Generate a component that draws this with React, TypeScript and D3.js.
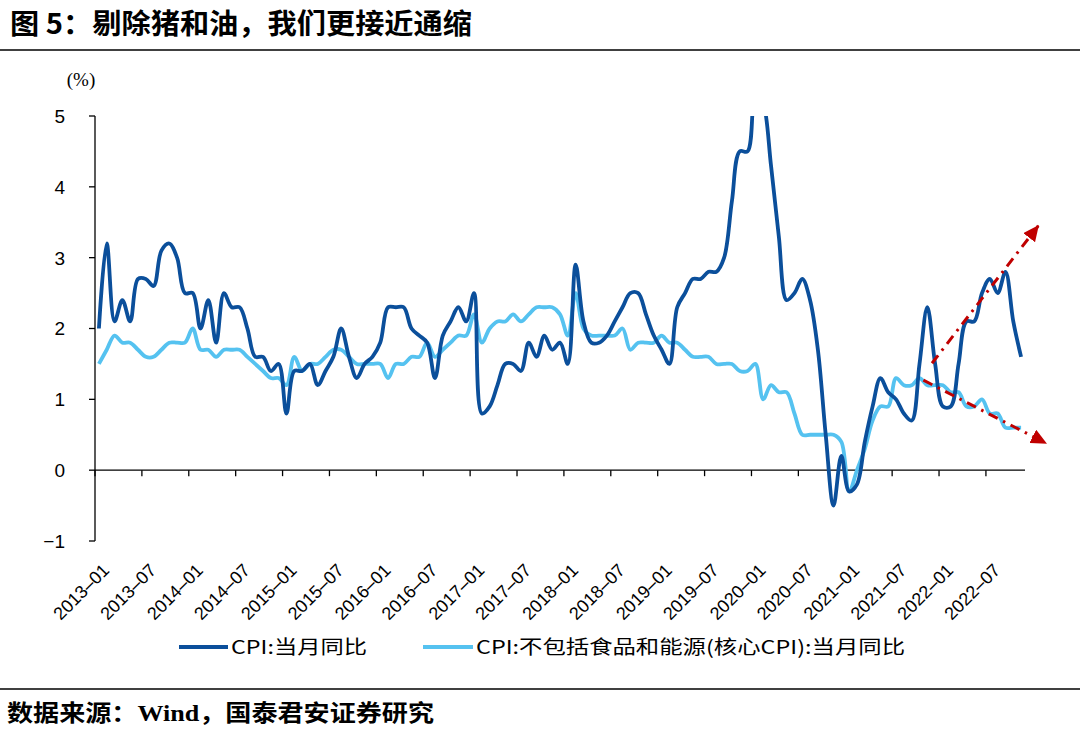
import * as d3 from "d3";

// CPI 当月同比, 2013-01 .. 2022-11
const cpi = [
  2.0, 3.2, 2.1, 2.4, 2.1, 2.7, 2.7, 2.6, 3.1, 3.2, 3.0, 2.5,
  2.5, 2.0, 2.4, 1.8, 2.5, 2.3, 2.3, 2.0, 1.6, 1.6, 1.4, 1.5,
  0.8, 1.4, 1.4, 1.5, 1.2, 1.4, 1.6, 2.0, 1.6, 1.3, 1.5, 1.6,
  1.8, 2.3, 2.3, 2.3, 2.0, 1.9, 1.8, 1.3, 1.9, 2.1, 2.3, 2.1,
  2.5, 0.8, 0.9, 1.2, 1.5, 1.5, 1.4, 1.8, 1.6, 1.9, 1.7, 1.8,
  1.5, 2.9, 2.1, 1.8, 1.8, 1.9, 2.1, 2.3, 2.5, 2.5, 2.2, 1.9,
  1.7, 1.5, 2.3, 2.5, 2.7, 2.7, 2.8, 2.8, 3.0, 3.8, 4.5, 4.5,
  5.4, 5.2, 4.3, 3.3, 2.4, 2.5, 2.7, 2.4, 1.7, 0.5, -0.5, 0.2,
  -0.3, -0.2, 0.4, 0.9, 1.3, 1.1, 1.0, 0.8, 0.7, 1.5, 2.3, 1.5,
  0.9, 0.9, 1.5, 2.1, 2.1, 2.5, 2.7, 2.5, 2.8, 2.1, 1.6,
];

// 核心CPI 当月同比, same months
const coreCpi = [
  1.5, 1.7, 1.9, 1.8, 1.8, 1.7, 1.6, 1.6, 1.7, 1.8, 1.8, 1.8,
  2.0, 1.7, 1.7, 1.6, 1.7, 1.7, 1.7, 1.6, 1.5, 1.4, 1.3, 1.3,
  1.2, 1.6, 1.4, 1.5, 1.5, 1.6, 1.7, 1.7, 1.6, 1.5, 1.5, 1.5,
  1.5, 1.3, 1.5, 1.5, 1.6, 1.6, 1.8, 1.6, 1.7, 1.8, 1.9, 1.9,
  2.2, 1.8, 2.0, 2.1, 2.1, 2.2, 2.1, 2.2, 2.3, 2.3, 2.3, 2.2,
  1.9, 2.5, 2.0, 1.9, 1.9, 1.9, 1.9, 2.0, 1.7, 1.8, 1.8, 1.8,
  1.9, 1.8, 1.8, 1.7, 1.6, 1.6, 1.6, 1.5, 1.5, 1.5, 1.4, 1.4,
  1.5, 1.0, 1.2, 1.1, 1.1, 0.8, 0.5, 0.5, 0.5, 0.5, 0.5, 0.4,
  -0.3, 0.0, 0.3, 0.7, 0.9, 0.9, 1.3, 1.2, 1.2, 1.3, 1.2, 1.2,
  1.2, 1.1, 1.1, 0.9, 0.9, 1.0, 0.8, 0.8, 0.6, 0.6, 0.6,
];

// one label every 6 months
const tickLabels = [
  "2013–01", "2013–07", "2014–01", "2014–07", "2015–01", "2015–07",
  "2016–01", "2016–07", "2017–01", "2017–07", "2018–01", "2018–07",
  "2019–01", "2019–07", "2020–01", "2020–07", "2021–01", "2021–07",
  "2022–01", "2022–07",
];
const yTicks = [-1, 0, 1, 2, 3, 4, 5];

// red trend arrows, in (month index, %) units
const trendUp = [
  { i: 106.6, v: 1.51 },
  { i: 120.2, v: 3.45 },
];
const trendDown = [
  { i: 105.5, v: 1.27 },
  { i: 121.2, v: 0.38 },
];

const DARK = "#0B4F9B";
const LIGHT = "#55C2F0";
const RED = "#C00000";
const CJK = '"Noto Sans CJK SC", "Noto Sans", sans-serif';

export default function App() {
  const width = 1080;
  const height = 735;
  const x = d3.scaleLinear([-0.5, 118.5], [95, 1025]);
  const y = d3.scaleLinear([-1, 5], [541, 116]);

  const line = d3
    .line<number>()
    .x((_, i) => x(i))
    .y((d) => y(d))
    .curve(d3.curveCatmullRom.alpha(0.5));

  const trend = d3
    .line<{ i: number; v: number }>()
    .x((d) => x(d.i))
    .y((d) => y(d.v));

  return (
    <svg
      width={width}
      height={height}
      viewBox={`0 0 ${width} ${height}`}
      style={{ position: "absolute", left: 0, top: 0, background: "#fff" }}
    >
      <defs>
        <clipPath id="plot-clip">
          <rect x={95} y={y(5)} width={940} height={y(-1.3) - y(5)} />
        </clipPath>
        <marker
          id="red-head"
          viewBox="0 0 16 15"
          refX={15}
          refY={7.5}
          markerWidth={16}
          markerHeight={15}
          markerUnits="userSpaceOnUse"
          orient="auto"
        >
          <path d="M0,0 L16,7.5 L0,15 Z" fill={RED} />
        </marker>
      </defs>

      {/* title */}
      <text
        x={10}
        y={34}
        fontFamily={CJK}
        fontWeight={700}
        fontSize={28}
        textLength={462}
        lengthAdjust="spacingAndGlyphs"
        fill="#000"
      >
        图 5：剔除猪和油，我们更接近通缩
      </text>
      <line x1={0} x2={width} y1={50} y2={50} stroke="#000" strokeWidth={1.6} />

      {/* y axis */}
      <text
        x={81}
        y={86}
        textAnchor="middle"
        fontFamily='"Liberation Serif", serif'
        fontSize={19}
      >
        (%)
      </text>
      <line x1={95} x2={95} y1={y(5)} y2={y(-1)} stroke="#000" strokeWidth={1.3} />
      {yTicks.map((t) => (
        <g key={t}>
          <line x1={89} x2={95} y1={y(t)} y2={y(t)} stroke="#000" strokeWidth={1.3} />
          <text
            x={65}
            y={y(t)}
            dy="0.36em"
            textAnchor="end"
            fontFamily='"Liberation Sans", Arial, sans-serif'
            fontSize={19}
          >
            {t < 0 ? `−${Math.abs(t)}` : t}
          </text>
        </g>
      ))}

      {/* x axis at zero */}
      <line x1={x(-0.5)} x2={x(118.5)} y1={y(0)} y2={y(0)} stroke="#000" strokeWidth={1.3} />
      {tickLabels.map((label, k) => {
        const i = k * 6;
        return (
          <g key={label}>
            <line
              x1={x(i - 0.5)}
              x2={x(i - 0.5)}
              y1={y(0)}
              y2={y(0) + 6}
              stroke="#000"
              strokeWidth={1.3}
            />
            <text
              transform={`translate(${x(i) + 7},567) rotate(-45)`}
              dy="0.35em"
              textAnchor="end"
              fontFamily='"Liberation Sans", Arial, sans-serif'
              fontSize={18}
            >
              {label}
            </text>
          </g>
        );
      })}

      {/* series */}
      <g clipPath="url(#plot-clip)">
        <path d={line(coreCpi) ?? ""} fill="none" stroke={LIGHT} strokeWidth={3.8} strokeLinejoin="round" />
        <path d={line(cpi) ?? ""} fill="none" stroke={DARK} strokeWidth={3.8} strokeLinejoin="round" />
      </g>

      {/* trend arrows */}
      <path
        d={trend(trendUp) ?? ""}
        fill="none"
        stroke={RED}
        strokeWidth={3}
        strokeDasharray="10 6 2.5 6"
        markerEnd="url(#red-head)"
      />
      <path
        d={trend(trendDown) ?? ""}
        fill="none"
        stroke={RED}
        strokeWidth={3}
        strokeDasharray="10 6 2.5 6"
        markerEnd="url(#red-head)"
      />

      {/* legend */}
      <line x1={179} x2={228} y1={647} y2={647} stroke={DARK} strokeWidth={4} />
      <text
        x={231}
        y={654}
        fontFamily={CJK}
        fontSize={19}
        textLength={136}
        lengthAdjust="spacingAndGlyphs"
      >
        CPI:当月同比
      </text>
      <line x1={423} x2={473} y1={647} y2={647} stroke={LIGHT} strokeWidth={4} />
      <text
        x={476}
        y={654}
        fontFamily={CJK}
        fontSize={19}
        textLength={429}
        lengthAdjust="spacingAndGlyphs"
      >
        CPI:不包括食品和能源(核心CPI):当月同比
      </text>

      {/* source */}
      <line x1={0} x2={width} y1={689} y2={689} stroke="#000" strokeWidth={1.6} />
      <text
        x={7}
        y={721}
        fontFamily={CJK}
        fontWeight={700}
        fontSize={23}
        textLength={427}
        lengthAdjust="spacingAndGlyphs"
      >
        数据来源：
        <tspan fontFamily='"Liberation Serif", serif'>Wind</tspan>
        ，国泰君安证券研究
      </text>
    </svg>
  );
}
